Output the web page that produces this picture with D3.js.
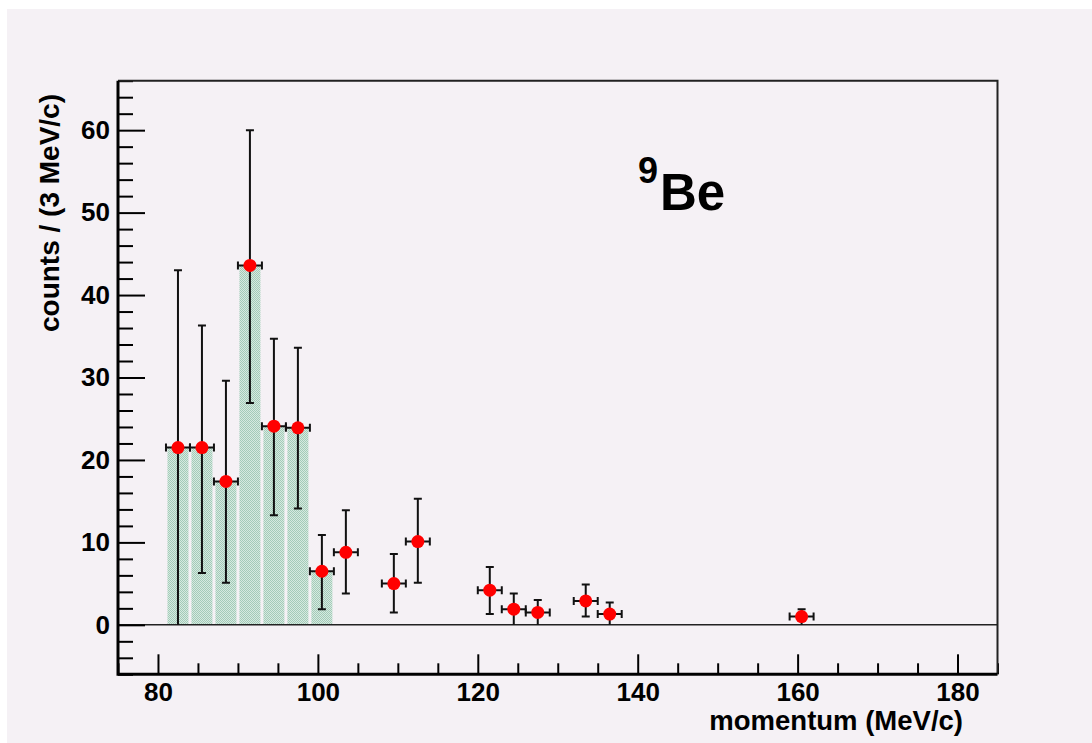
<!DOCTYPE html>
<html>
<head>
<meta charset="utf-8">
<script src="https://cdn.jsdelivr.net/npm/d3@7"></script>
<style>
  html, body { margin: 0; padding: 0; background: #fff; }
  svg { display: block; }
  .tick text { font-family: "Liberation Sans", Arial, sans-serif; font-weight: bold; font-size: 26px; fill: #000; }
</style>
</head>
<body>
<div id="chart"></div>
<script>
// bin centres (3 MeV/c bins) and measured counts
const centers = [82.5, 85.5, 88.5, 91.5, 94.5, 97.5, 100.5, 103.5, 109.5, 112.5, 121.5, 124.5, 127.5, 133.5, 136.5, 160.5];
const counts  = [21.5, 21.5, 17.4, 43.6, 24.1, 23.9, 6.5, 8.8, 5.0, 10.1, 4.2, 1.9, 1.5, 2.9, 1.3, 1.0];
const errHigh = [43.0, 36.3, 29.6, 60.0, 34.7, 33.6, 10.9, 13.9, 8.6, 15.3, 7.0, 3.8, 3.0, 4.9, 2.7, 1.9];
const errLow  = [0, 6.3, 5.1, 26.9, 13.3, 14.1, 1.9, 3.8, 1.5, 5.1, 1.3, 0, 0, 1.0, 0, 0];

// shaded histogram
const barStarts = [81, 84, 87, 90, 93, 96, 99];
const barCounts = [21.5, 21.5, 17.4, 43.6, 24.1, 23.9, 6.5];
const binWidth = 3;

const xMajor = [80, 100, 120, 140, 160, 180];
const yMajor = [0, 10, 20, 30, 40, 50, 60];

const width = 1092, height = 743;
const font = '"Liberation Sans", Arial, sans-serif';

const svg = d3.select("#chart").append("svg")
  .attr("width", width)
  .attr("height", height);

// checkered fill like the ROOT hatch
const defs = svg.append("defs");
const pat = defs.append("pattern")
  .attr("id", "dots")
  .attr("width", 2).attr("height", 2)
  .attr("patternUnits", "userSpaceOnUse");
pat.append("rect").attr("width", 2).attr("height", 2).attr("fill", "#d6e9e0");
pat.append("rect").attr("width", 1).attr("height", 1).attr("fill", "#a3cbb8");
pat.append("rect").attr("x", 1).attr("y", 1).attr("width", 1).attr("height", 1).attr("fill", "#a3cbb8");

// canvas background
svg.append("rect")
  .attr("x", 7).attr("y", 9)
  .attr("width", width - 7).attr("height", height - 9)
  .attr("fill", "#f5f1f5");

const x = d3.scaleLinear([75, 185], [118, 997.5]);
const y = d3.scaleLinear([-6, 66], [674.3, 80.7]);

// bars
svg.append("g")
  .selectAll("rect")
  .data(barStarts)
  .join("rect")
    .attr("x", d => x(d) + 1.5)
    .attr("width", d => x(d + binWidth) - x(d) - 3)
    .attr("y", (d, i) => y(barCounts[i]))
    .attr("height", (d, i) => y(0) - y(barCounts[i]))
    .attr("fill", "url(#dots)");

// zero line
svg.append("line")
  .attr("x1", x(75)).attr("x2", x(185))
  .attr("y1", y(0)).attr("y2", y(0))
  .attr("stroke", "#222").attr("stroke-width", 1.5);

// axes (ticks point into the frame)
const yMinor = d3.range(-6, 67, 2).filter(v => v % 10 !== 0);
const xMinor = d3.range(75, 186, 5).filter(v => v % 20 !== 0);

svg.append("g")
  .attr("transform", `translate(${x(75)},0)`)
  .call(d3.axisLeft(y).tickValues(yMinor).tickSize(-15).tickFormat(""))
  .call(g => g.select(".domain").remove())
  .selectAll("line").attr("stroke", "#000").attr("stroke-width", 2);

svg.append("g")
  .attr("transform", `translate(${x(75)},0)`)
  .call(d3.axisLeft(y).tickValues(yMajor).tickSize(-27).tickPadding(8).tickFormat(d3.format("d")))
  .call(g => g.select(".domain").remove())
  .call(g => g.selectAll("line").attr("stroke", "#000").attr("stroke-width", 2));

svg.append("g")
  .attr("transform", `translate(0,${y(-6)})`)
  .call(d3.axisBottom(x).tickValues(xMinor).tickSize(-11).tickFormat(""))
  .call(g => g.select(".domain").remove())
  .selectAll("line").attr("stroke", "#000").attr("stroke-width", 2);

svg.append("g")
  .attr("transform", `translate(0,${y(-6)})`)
  .call(d3.axisBottom(x).tickValues(xMajor).tickSize(-20).tickPadding(8).tickFormat(d3.format("d")))
  .call(g => g.select(".domain").remove())
  .call(g => g.selectAll("line").attr("stroke", "#000").attr("stroke-width", 2));

// frame
svg.append("path")
  .attr("d", `M${x(75)},${y(66)}H${x(185)}V${y(-6)}`)
  .attr("fill", "none").attr("stroke", "#222").attr("stroke-width", 2);
svg.append("path")
  .attr("d", `M${x(75)},${y(66)}V${y(-6)}H${x(185)}`)
  .attr("fill", "none").attr("stroke", "#000").attr("stroke-width", 3);

// error bars
const eb = svg.append("g").attr("stroke", "#111").attr("stroke-width", 2).attr("fill", "none");
const cap = 4;
centers.forEach((c, i) => {
  const cx = x(c), cy = y(counts[i]);
  const xl = x(c - binWidth / 2), xr = x(c + binWidth / 2);
  let d = `M${cx},${y(errLow[i])}V${y(errHigh[i])}`;
  d += `M${cx - cap},${y(errHigh[i])}H${cx + cap}`;
  if (errLow[i] > 0) d += `M${cx - cap},${y(errLow[i])}H${cx + cap}`;
  d += `M${xl},${cy}H${xr}M${xl},${cy - cap}V${cy + cap}M${xr},${cy - cap}V${cy + cap}`;
  eb.append("path").attr("d", d);
});

// points
svg.append("g")
  .selectAll("circle")
  .data(centers)
  .join("circle")
    .attr("cx", d => x(d))
    .attr("cy", (d, i) => y(counts[i]))
    .attr("r", 6.5)
    .attr("fill", "#ff0000");

// axis titles
svg.append("text")
  .attr("x", 963).attr("y", 730)
  .attr("text-anchor", "end")
  .style("font", `bold 27.5px ${font}`)
  .text("momentum (MeV/c)");

svg.append("text")
  .attr("transform", "translate(59,94) rotate(-90)")
  .attr("text-anchor", "end")
  .style("font", `bold 28px ${font}`)
  .text("counts / (3 MeV/c)");

// nucleus label
svg.append("text")
  .attr("x", 638).attr("y", 183)
  .style("font", `bold 36px ${font}`)
  .text("9");
svg.append("text")
  .attr("x", 660).attr("y", 210)
  .style("font", `bold 51px ${font}`)
  .text("Be");
</script>
</body>
</html>
